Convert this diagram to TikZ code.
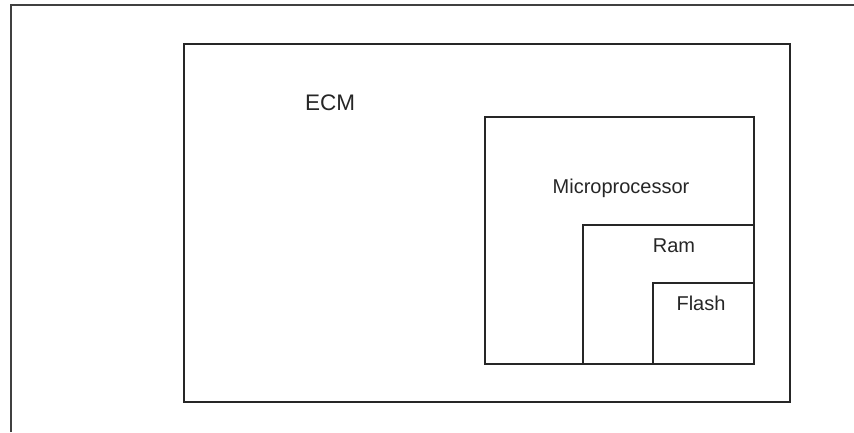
\documentclass[tikz,border=0pt]{standalone}
\usepackage{fontspec}
\setmainfont{Liberation Sans}
\begin{document}
\begin{tikzpicture}[x=1pt,y=-1pt,
  box/.style={draw=black!85,line width=1.4pt,inner sep=0pt,minimum width=#1},
  bigtext/.style={font=\fontsize{22.5}{26}\selectfont,anchor=base,inner sep=0pt,text=black!85},
  smalltext/.style={font=\fontsize{20}{24}\selectfont,anchor=base,inner sep=0pt,text=black!85}]
\useasboundingbox (0,0) rectangle (854,432);
\coordinate (oa) at (11,432);
\coordinate (ob) at (11,5);
\coordinate (oc) at (854,5);
\draw[draw=black!75,line width=2pt] (oa) -- (ob) -- (oc);
\node[box=606pt,minimum height=358pt] (ecm) at (487,223) {};
\node[box=269pt,minimum height=247pt] (micro) at (619.5,240.5) {};
\node[box=171pt,minimum height=139pt] (ram) at (668.5,294.5) {};
\node[box=101pt,minimum height=81pt] (flash) at (703.5,323.5) {};
\node[bigtext] (tecm) at (330,110) {ECM};
\node[smalltext] (tmicro) at (621,193) {Microprocessor};
\node[smalltext] (tram) at (674,252) {Ram};
\node[smalltext] (tflash) at (701,310) {Flash};
\end{tikzpicture}
\end{document}
